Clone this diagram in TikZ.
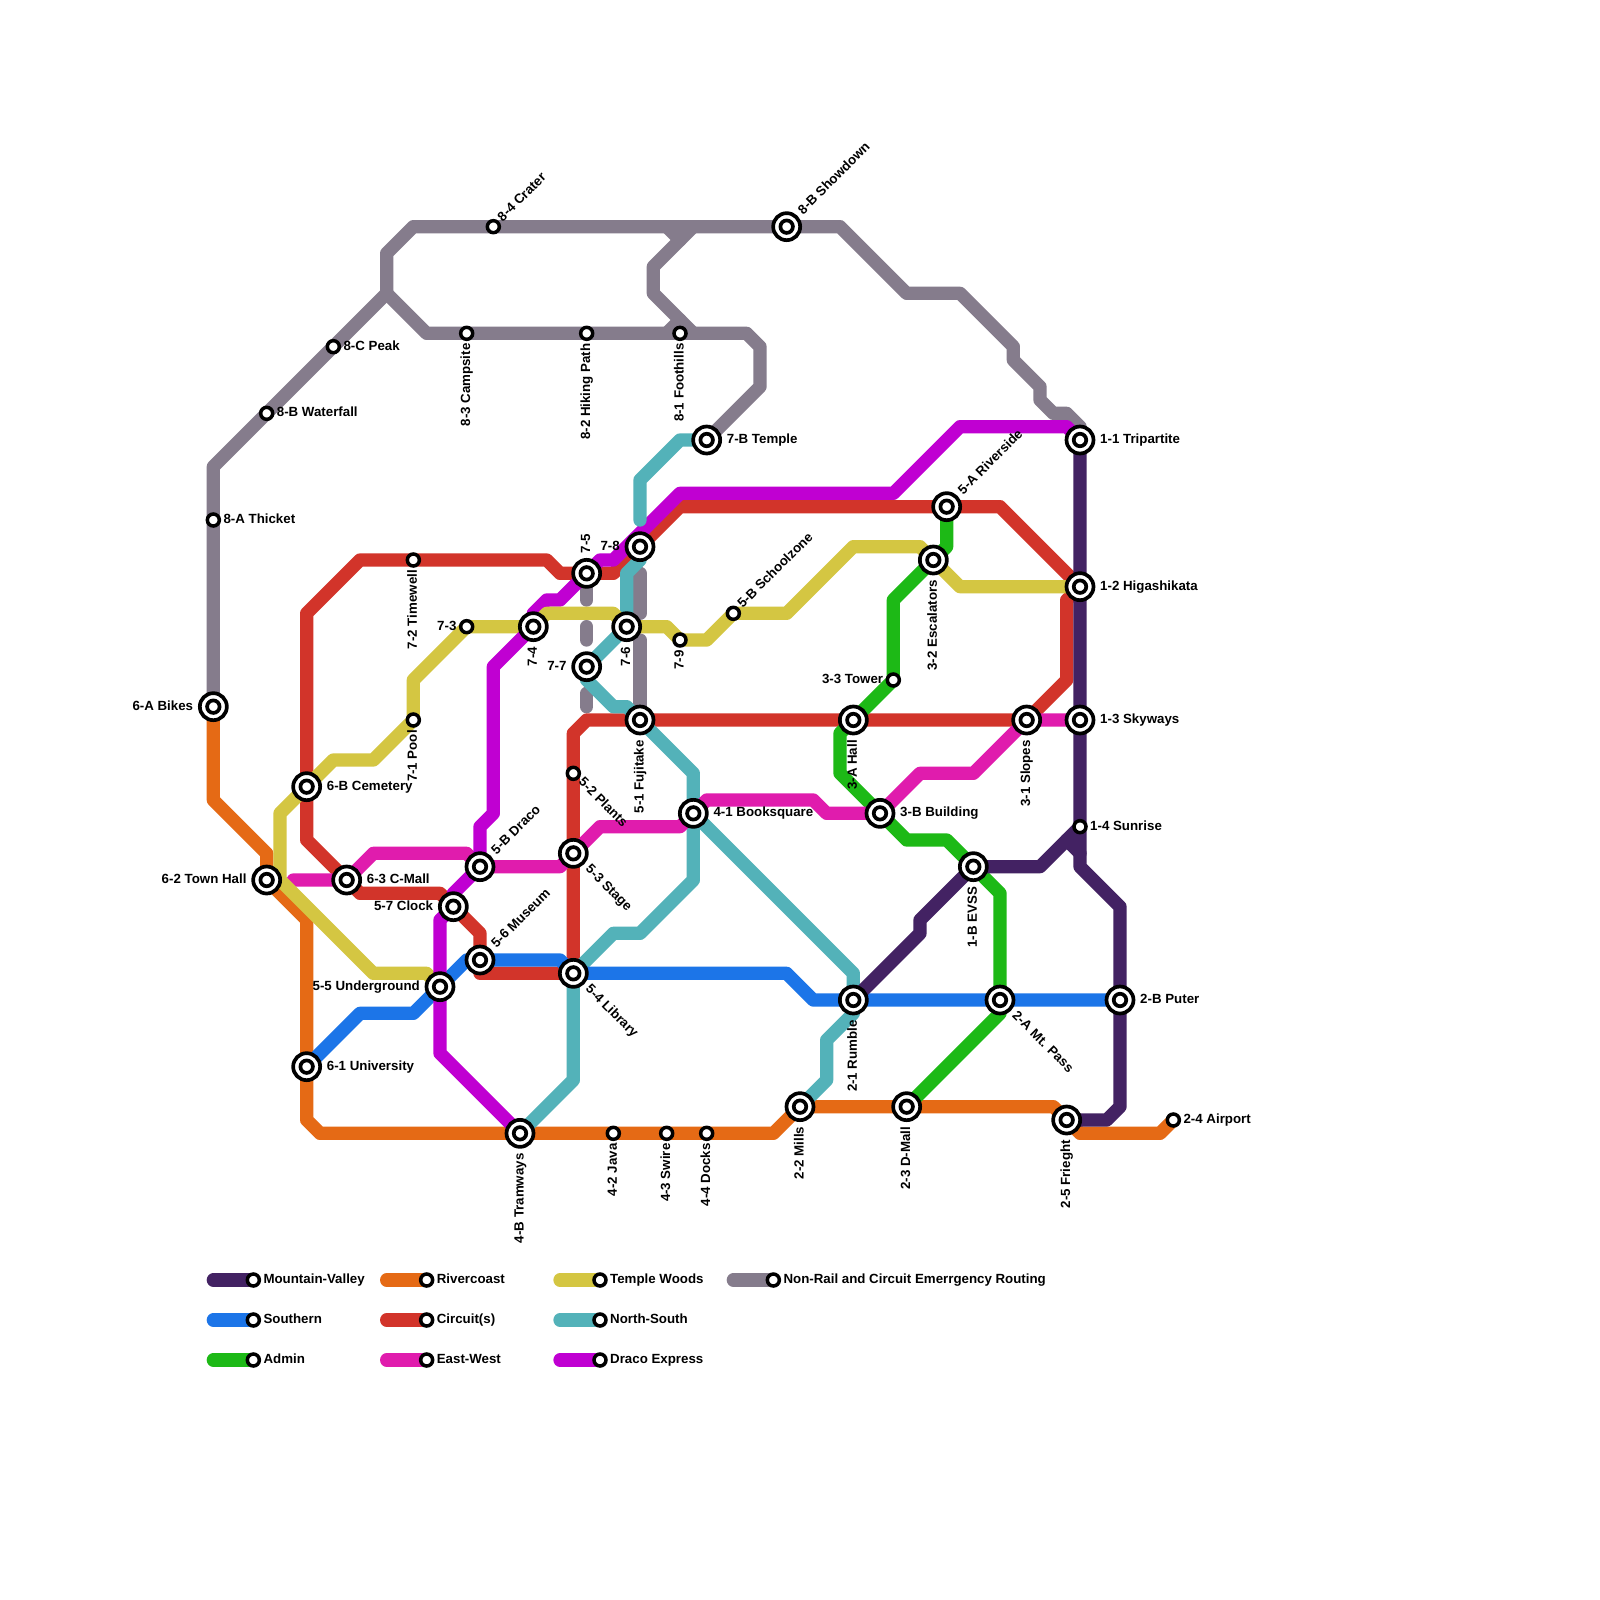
\documentclass[tikz,border=0pt]{standalone}
\usepackage{fontspec}
\setmainfont{Liberation Sans}
\definecolor{cmv}{HTML}{432263}
\definecolor{csouth}{HTML}{1C75E8}
\definecolor{cadmin}{HTML}{1DB916}
\definecolor{criver}{HTML}{E56A15}
\definecolor{ccirc}{HTML}{D2342A}
\definecolor{ceast}{HTML}{E01CAD}
\definecolor{ctemple}{HTML}{D4C642}
\definecolor{cns}{HTML}{53B2B9}
\definecolor{cdraco}{HTML}{C000D2}
\definecolor{cgrey}{HTML}{857C8C}
\tikzset{
 x=13.3333pt,y=-13.3333pt,
 rail/.style={line width=13.3pt,line cap=round,line join=round,draw=#1},
 bigouter/.style={circle,draw=black,fill=white,line width=3.7pt,minimum size=27pt,inner sep=0pt},
 biginner/.style={circle,draw=black,fill=white,line width=3.7pt,minimum size=12.5pt,inner sep=0pt},
 smallst/.style={circle,draw=black,fill=white,line width=3.5pt,minimum size=12pt,inner sep=0pt},
 lbl/.style={font=\bfseries\fontsize{13.3}{15}\selectfont,inner sep=0pt,text height=9.5pt,text depth=2.5pt},
}
\newcommand{\crd}[2]{\coordinate (#1) at (#2);}
\newcommand{\bigsta}[1]{\node[bigouter] (#1-ring) at (#1) {};\node[biginner] (#1-core) at (#1) {};}
\newcommand{\smsta}[1]{\node[smallst] (#1-ring) at (#1) {};}
% labels: name, text
\newcommand{\lR}[3]{\node[lbl,anchor=west] (#1-txt) at ([shift={(#3pt,0pt)}]#1) {#2};}
\newcommand{\lL}[3]{\node[lbl,anchor=east] (#1-txt) at ([shift={(-#3pt,0pt)}]#1) {#2};}
\newcommand{\lD}[3]{\node[lbl,anchor=east,rotate=90] (#1-txt) at ([shift={(0pt,-#3pt)}]#1) {#2};}
\newcommand{\lU}[3]{\node[lbl,anchor=west,rotate=90] (#1-txt) at ([shift={(0pt,#3pt)}]#1) {#2};}
\newcommand{\lUR}[3]{\node[lbl,anchor=west,rotate=45] (#1-txt) at ([shift={(#3pt,#3pt)}]#1) {#2};}
\newcommand{\lDR}[3]{\node[lbl,anchor=west,rotate=-45] (#1-txt) at ([shift={(#3pt,-#3pt)}]#1) {#2};}
\begin{document}
\begin{tikzpicture}
\useasboundingbox (0,0) rectangle (120,120);
\fill[white] (0,0) rectangle (120,120);
% station positions
\crd{a}{81,33}\crd{b}{81,44}\crd{c}{81,54}\crd{d}{81,62}\crd{e}{73,65}
\crd{f}{64,75}\crd{g}{75,75}\crd{h}{84,75}\crd{i}{60,83}\crd{j}{68,83}\crd{k}{80,84}\crd{l}{88,84}
\crd{m}{66,61}\crd{n}{64,54}\crd{o}{67,51}\crd{p}{70,42}\crd{q}{71,38}\crd{r}{77,54}
\crd{s}{52,61}\crd{t}{48,54}\crd{u}{43,58}\crd{v}{43,64}\crd{w}{43,73}\crd{x}{36,65}
\crd{y}{34,68}\crd{z}{36,72}\crd{aa}{33,74}\crd{ab}{23,80}\crd{ac}{26,66}\crd{ad}{20,66}
\crd{ae}{23,59}\crd{af}{16,53}\crd{ag}{39,85}\crd{ah}{46,85}\crd{ai}{50,85}\crd{aj}{53,85}
\crd{ak}{31,54}\crd{al}{31,42}\crd{am}{35,47}\crd{an}{53,33}\crd{ao}{51,25}\crd{ap}{44,25}
\crd{aq}{35,25}\crd{ar}{37,17}\crd{as}{59,17}\crd{at}{25,26}\crd{au}{20,31}\crd{av}{16,39}
\crd{aw}{40,47}\crd{ax}{47,47}\crd{ay}{44,43}\crd{az}{48,41}\crd{ba}{44,50}\crd{bb}{51,48}\crd{bc}{55,46}
% grey
\draw[rail=cgrey] (af)--(av)--(16,35)--(au)--(at)--(29,22)--(29,19)--(31,17)--(ar)--(as)--(63,17)--(68,22)--(72,22)--(76,26)--(76,27)--(78,29)--(78,30)--(79,31)--(80,31)--(81,32)--(a);
\draw[rail=cgrey] (29,22)--(32,25)--(aq)--(ap)--(ao)--(56,25)--(57,26)--(57,29)--(an);
\draw[rail=cgrey] (52,17)--(49,20)--(49,22)--(52,25);
\draw[rail=cgrey] (50,17)--(51,18);
\draw[rail=cgrey] (50,25)--(51,24);
\draw[rail=cgrey] (ay)--(44,45);
\draw[rail=cgrey] (44,47)--(44,48);
\draw[rail=cgrey] (44,52)--(44,53);
\draw[rail=cgrey] (48,43)--(48,46);
\draw[rail=cgrey] (48,48)--(t);
% orange
\draw[rail=criver] (af)--(16,60)--(20,64)--(ad)--(23,69)--(ab)--(23,84)--(24,85)--(ag)--(ah)--(ai)--(aj)--(58,85)--(i)--(j)--(79,83)--(k)--(81,85)--(87,85)--(l);
% red
\draw[rail=ccirc] (ae)--(23,46)--(27,42)--(al)--(41,42)--(42,43)--(ay)--(46,43)--(az)--(51,38)--(q)--(75,38)--(b)--(80,45)--(80,51)--(r)--(n)--(t)--(44,54)--(43,55)--(u)--(v)--(w)--(36,73)--(z)--(36,70)--(y)--(33,67)--(27,67)--(ac)--(23,63)--(ae);
% green
\draw[rail=cadmin] (q)--(71,41)--(p)--(67,45)--(o)--(n)--(63,55)--(63,58)--(m)--(68,63)--(71,63)--(e)--(75,67)--(g)--(75,76)--(j);
% teal lower
\draw[rail=cns] (az)--(48,42)--(47,43)--(ax)--(ba)--(44,51)--(46,53)--(47,53)--(t)--(52,58)--(s)--(52,66)--(48,70)--(46,70)--(w)--(43,81)--(ag);
\draw[rail=cns] (s)--(64,73)--(f)--(64,76)--(62,78)--(62,81)--(i);
% blue
\draw[rail=csouth] (ab)--(27,76)--(31,76)--(aa)--(35,72)--(z)--(42,72)--(w)--(59,73)--(61,75)--(f)--(g)--(h);
% mountain valley
\draw[rail=cmv] (a)--(b)--(c)--(d)--(81,65)--(84,68)--(h)--(84,83)--(83,84)--(k);
\draw[rail=cmv] (d)--(78,65)--(e)--(69,69)--(69,70)--(f);
\draw[rail=cmv] (80,63)--(81,64);
% east west
\draw[rail=ceast] (c)--(r)--(73,58)--(69,58)--(m)--(62,61)--(61,60)--(53,60)--(s)--(51,62)--(45,62)--(v)--(42,65)--(x)--(35,64)--(28,64)--(ac)--(22,66);
% yellow, western part
\draw[rail=ctemple] (aw)--(am)--(31,51)--(ak)--(28,57)--(25,57)--(ae)--(21,61)--(21,66)--(28,73)--(32,73)--(aa);
% draco
\draw[rail=cdraco] (a)--(80,32)--(72,32)--(67,37)--(51,37)--(46,42)--(45,42)--(ay)--(42,45)--(41,45)--(40,46)--(aw)--(37,50)--(37,61)--(36,62)--(x)--(34,67)--(y)--(33,69)--(aa)--(33,79)--(ag);
% yellow, eastern part
\draw[rail=ctemple] (b)--(72,44)--(p)--(69,41)--(64,41)--(59,46)--(bc)--(53,48)--(bb)--(50,47)--(ax)--(46,46)--(41,46)--(aw);
% teal upper
\draw[rail=cns] (an)--(51,33)--(48,36)--(48,39);
% stations
\foreach \s in {a,b,c,e,f,g,h,i,j,k,m,n,p,q,r,s,t,v,w,x,y,z,aa,ab,ac,ad,ae,af,ag,an,as,aw,ax,ay,az,ba}{\bigsta{\s}}
\foreach \s in {d,l,o,u,ah,ai,aj,ak,al,am,ao,ap,aq,ar,at,au,av,bb,bc}{\smsta{\s}}
% labels
\lR{a}{1-1 Tripartite}{20}\lR{b}{1-2 Higashikata}{20}\lR{c}{1-3 Skyways}{20}\lR{d}{1-4 Sunrise}{10}
\lR{h}{2-B Puter}{20}\lR{l}{2-4 Airport}{10}\lR{m}{3-B Building}{20}\lR{s}{4-1 Booksquare}{20}
\lR{ae}{6-B Cemetery}{20}\lR{ac}{6-3 C-Mall}{20}\lR{ab}{6-1 University}{20}\lR{an}{7-B Temple}{20}
\lR{at}{8-C Peak}{10}\lR{au}{8-B Waterfall}{10}\lR{av}{8-A Thicket}{10}
\lL{af}{6-A Bikes}{20}\lL{ad}{6-2 Town Hall}{20}\lL{y}{5-7 Clock}{20}\lL{aa}{5-5 Underground}{20}
\lL{ba}{7-7}{20}\lL{az}{7-8}{20}\lL{o}{3-3 Tower}{10}\lL{am}{7-3}{10}
\lD{aw}{7-4}{20}\lD{ax}{7-6}{20}\lD{t}{5-1 Fujitake}{20}\lD{n}{3-A Hall}{20}\lD{r}{3-1 Slopes}{20}
\lD{p}{3-2 Escalators}{20}\lD{e}{1-B EVSS}{20}\lD{f}{2-1 Rumble}{20}\lD{i}{2-2 Mills}{20}
\lD{j}{2-3 D-Mall}{20}\lD{k}{2-5 Frieght}{20}\lD{ag}{4-B Tramways}{20}
\lD{bb}{7-9}{10}\lD{al}{7-2 Timewell}{10}\lD{ak}{7-1 Pool}{10}\lD{aq}{8-3 Campsite}{10}
\lD{ap}{8-2 Hiking Path}{10}\lD{ao}{8-1 Foothills}{10}\lD{ah}{4-2 Java}{10}\lD{ai}{4-3 Swire}{10}\lD{aj}{4-4 Docks}{10}
\lU{ay}{7-5}{20}
\lUR{x}{5-B Draco}{14}\lUR{z}{5-6 Museum}{14}\lUR{q}{5-A Riverside}{14}\lUR{as}{8-B Showdown}{14}
\lUR{ar}{8-4 Crater}{7}\lUR{bc}{5-B Schoolzone}{7}
\lDR{v}{5-3 Stage}{14}\lDR{w}{5-4 Library}{14}\lDR{g}{2-A Mt. Pass}{14}\lDR{u}{5-2 Plants}{7}
% legend
\foreach \nm/\cl/\cx/\cy/\txt in {
 la/cmv/16/96/Mountain-Valley,lb/csouth/16/99/Southern,lc/cadmin/16/102/Admin,
 ld/criver/29/96/Rivercoast,le/ccirc/29/99/Circuit(s),lf/ceast/29/102/East-West,
 lg/ctemple/42/96/Temple Woods,lh/cns/42/99/North-South,li/cdraco/42/102/Draco Express,
 lj/cgrey/55/96/Non-Rail and Circuit Emerrgency Routing}{
 \coordinate (\nm s) at (\cx,\cy);
 \coordinate (\nm) at (\cx+3,\cy);
 \draw[rail=\cl] (\nm s)--(\nm);
 \smsta{\nm}
 \lR{\nm}{\txt}{10}
}
\end{tikzpicture}
\end{document}
